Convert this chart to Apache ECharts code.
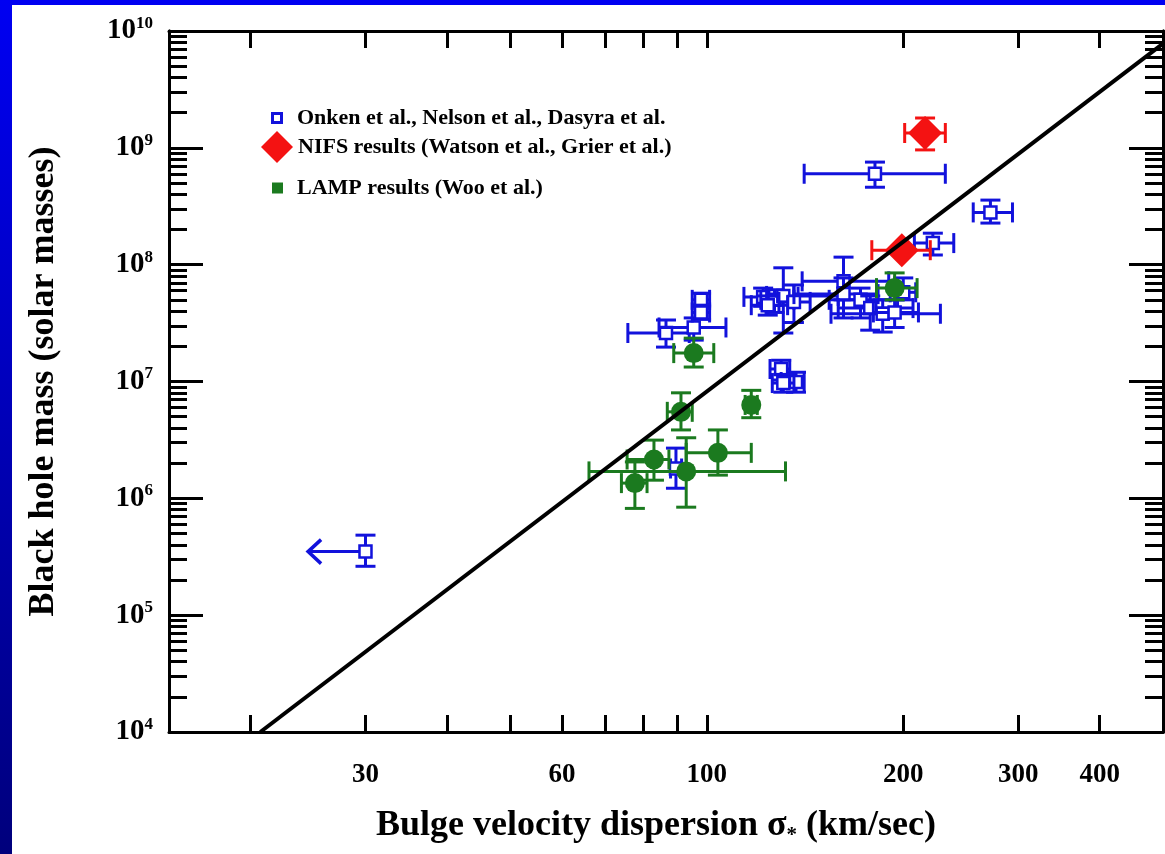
<!DOCTYPE html>
<html>
<head>
<meta charset="utf-8">
<title>M-sigma</title>
<script src="https://cdn.jsdelivr.net/npm/echarts@6/dist/echarts.min.js"></script>
<style>
  html, body { margin: 0; padding: 0; width: 1165px; height: 854px; overflow: hidden;
    background: linear-gradient(to bottom, #0000f2, #00007c); }
  #chart { position: absolute; left: 12px; top: 5px; width: 1153px; height: 849px; background: #fff; }
</style>
</head>
<body>
<div id="chart"></div>
<script>
// rows: [sigma, mass, sigmaLow, sigmaHigh, massLow, massHigh]
const onken = [
  [122, 5.3e7, 114, 138, 4.4e7, 6.3e7],
  [127, 5.0e7, 121, 136, 3.9e7, 6.1e7],
  [131, 5.4e7, 123.5, 159, 2.6e7, 9.4e7],
  [136, 4.8e7, 129, 144, 3.2e7, 6.7e7],
  [124, 4.5e7, 117, 133, 3.7e7, 5.4e7],
  [162, 7.2e7, 140, 190, 5.0e7, 1.16e8],
  [162, 5.6e7, 136, 183, 3.5e7, 7.7e7],
  [172, 5.0e7, 154, 196, 3.5e7, 6.3e7],
  [178, 4.25e7, 159, 207, 2.75e7, 5.4e7],
  [186, 3.8e7, 155, 228, 2.65e7, 5.0e7],
  [194, 3.9e7, 180, 211, 2.9e7, 5.0e7],
  [200, 5.8e7, 191, 209, 5.0e7, 7.7e7],
  [130, 1.28e7, 125, 134, 1.03e7, 1.52e7],
  [137, 9.9e6, 130, 141, 8.1e6, 1.2e7],
  [131, 9.7e6, 126, 136, 8.1e6, 1.15e7],
  [86.6, 2.6e7, 75.7, 94, 1.97e7, 3.36e7],
  [95.5, 2.9e7, 84.5, 107, 2.26e7, 3.5e7],
  [98, 5.0e7, 95, 101, 4.4e7, 5.7e7],
  [98, 3.9e7, 95, 101, 3.4e7, 4.5e7],
  [181, 6.0e8, 141, 232, 4.6e8, 7.55e8],
  [272, 2.8e8, 256, 294, 2.27e8, 3.57e8],
  [222, 1.53e8, 208, 239, 1.21e8, 1.86e8],
  [89.7, 1.8e6, 88, 91.5, 1.22e6, 2.69e6]
];
// upper limit: [sigma, mass, arrowTip, massLow, massHigh]
const onkenLimit = [[30, 3.5e5, 24.5, 2.62e5, 4.84e5]];
const nifs = [
  [216, 1.34e9, 201, 232, 9.6e8, 1.8e9],
  [199, 1.33e8, 179, 220, 1.2e8, 1.45e8]
];
const lamp = [
  [194, 6.3e7, 182, 210, 5.0e7, 8.5e7],
  [95.5, 1.75e7, 89, 102.5, 1.33e7, 2.35e7],
  [117, 6.3e6, 114.5, 119.5, 4.9e6, 8.4e6],
  [91.3, 5.5e6, 87, 95, 3.85e6, 8.0e6],
  [104, 2.45e6, 93, 117, 1.58e6, 3.85e6],
  [83, 2.15e6, 75.5, 87.5, 1.43e6, 3.15e6],
  [93, 1.7e6, 66, 132, 8.4e5, 3.3e6],
  [77.6, 1.35e6, 74, 81, 8.2e5, 2.05e6]
];
const fitLine = [[20.7, 1e4], [500, 7.8e9]];

const xTicks = [20, 30, 40, 50, 60, 70, 80, 90, 100, 200, 300, 400];
const xLabels = [30, 60, 100, 200, 300, 400];
const yMajor = [1e4, 1e5, 1e6, 1e7, 1e8, 1e9, 1e10];
const yMinor = [];
yMajor.slice(0, -1).forEach(d => { for (let k = 2; k <= 9; k++) yMinor.push(k * d); });

const names = {
  onken: 'Onken et al., Nelson et al., Dasyra et al.',
  nifs: 'NIFS results (Watson et al., Grier et al.)',
  lamp: 'LAMP results (Woo et al.)'
};
const colors = { onken: '#1212dc', nifs: '#f41212', lamp: '#1b7a1f' };
const serif = 'Liberation Serif, Times New Roman, serif';

const cap = 10;
function seg(x1, y1, x2, y2, color) {
  return { type: 'line', shape: { x1, y1, x2, y2 }, style: { stroke: color, lineWidth: 3 } };
}

function errorPoint(shape) {
  return function (params, api) {
    const color = api.visual('color');
    const s = api.value(0), m = api.value(1);
    const c = api.coord([s, m]);
    const xl = api.coord([api.value(2), m])[0];
    const xr = api.coord([api.value(3), m])[0];
    const yl = api.coord([s, api.value(4)])[1];
    const yh = api.coord([s, api.value(5)])[1];
    const children = [
      seg(xl, c[1], xr, c[1], color),
      seg(xl, c[1] - cap, xl, c[1] + cap, color),
      seg(xr, c[1] - cap, xr, c[1] + cap, color),
      seg(c[0], yl, c[0], yh, color),
      seg(c[0] - cap, yl, c[0] + cap, yl, color),
      seg(c[0] - cap, yh, c[0] + cap, yh, color)
    ];
    if (shape === 'square') {
      children.push({ type: 'rect', shape: { x: c[0] - 6, y: c[1] - 6, width: 12, height: 12 },
        style: { fill: '#fff', stroke: color, lineWidth: 2.5 } });
    } else if (shape === 'circle') {
      children.push({ type: 'circle', shape: { cx: c[0], cy: c[1], r: 10 }, style: { fill: color } });
    } else {
      const r = 17;
      children.push({ type: 'polygon',
        shape: { points: [[c[0], c[1] - r], [c[0] + r, c[1]], [c[0], c[1] + r], [c[0] - r, c[1]]] },
        style: { fill: color } });
    }
    return { type: 'group', children };
  };
}

function limitPoint(params, api) {
  const color = colors.onken;
  const s = api.value(0), m = api.value(1);
  const c = api.coord([s, m]);
  const tip = api.coord([api.value(2), m]);
  const yl = api.coord([s, api.value(3)])[1];
  const yh = api.coord([s, api.value(4)])[1];
  return { type: 'group', children: [
    seg(c[0], yl, c[0], yh, color),
    seg(c[0] - cap, yl, c[0] + cap, yl, color),
    seg(c[0] - cap, yh, c[0] + cap, yh, color),
    seg(tip[0], c[1], c[0], c[1], color),
    { type: 'polyline', shape: { points: [[tip[0] + 13, c[1] - 12], [tip[0], c[1]], [tip[0] + 13, c[1] + 12]] },
      style: { stroke: color, lineWidth: 3.5, fill: null } },
    { type: 'rect', shape: { x: c[0] - 6, y: c[1] - 6, width: 12, height: 12 },
      style: { fill: '#fff', stroke: color, lineWidth: 2.5 } }
  ] };
}

const axisLine = { show: true, lineStyle: { color: '#000', width: 3 } };
const tickStyle = { color: '#000', width: 3 };

function xAxis(pos, withLabels) {
  return {
    type: 'log', logBase: 10, min: 15, max: 500, position: pos,
    axisLine: axisLine,
    axisTick: { inside: true, length: 17, customValues: xTicks, lineStyle: tickStyle },
    axisLabel: withLabels ? {
      customValues: xLabels, margin: 30, fontSize: 27, fontFamily: serif, fontWeight: 'bold', color: '#000'
    } : { show: false },
    splitLine: { show: false }, minorTick: { show: false }
  };
}

function yAxis(pos, values, len, withLabels) {
  return {
    type: 'log', logBase: 10, min: 1e4, max: 1e10, position: pos,
    axisLine: axisLine,
    axisTick: { inside: true, length: len, customValues: values, lineStyle: tickStyle },
    axisLabel: withLabels ? {
      customValues: yMajor, margin: 16,
      formatter: v => '{b|10}{s|' + Math.round(Math.log10(v)) + '}',
      rich: {
        b: { fontSize: 29, fontFamily: serif, fontWeight: 'bold', color: '#000', lineHeight: 32 },
        s: { fontSize: 17, fontFamily: serif, fontWeight: 'bold', color: '#000', lineHeight: 17, verticalAlign: 'top' }
      }
    } : { show: false },
    splitLine: { show: false }, minorTick: { show: false }
  };
}

const legendText = { fontFamily: serif, fontWeight: 'bold', fontSize: 22, color: '#000', lineHeight: 24 };

const chart = echarts.init(document.getElementById('chart'));
const yMain = yAxis('left', yMajor, 34, true);
yMain.name = 'Black hole mass (solar masses)';
yMain.nameLocation = 'middle';
yMain.nameGap = 107;
yMain.nameTextStyle = { fontSize: 36, fontFamily: serif, fontWeight: 'bold', color: '#000' };
const xMain = xAxis('bottom', true);
xMain.name = '{t|Bulge velocity dispersion σ}{u|*}{t| (km/sec)}';
xMain.nameLocation = 'middle';
xMain.nameGap = 74;
xMain.nameTextStyle = { padding: [0, 20, 0, 0], rich: {
  t: { fontSize: 36, fontFamily: serif, fontWeight: 'bold', color: '#000', lineHeight: 40 },
  u: { fontSize: 21, fontFamily: serif, fontWeight: 'bold', color: '#000', lineHeight: 21, verticalAlign: 'bottom' }
} };

chart.setOption({
  animation: false,
  grid: { left: 157, right: 2, top: 26, bottom: 122 },
  legend: [
    { data: [{ name: names.onken, icon: 'path://M0,0H12V12H0Z M3,3V9H9V3Z' }], left: 259, top: 101,
      padding: 0, itemWidth: 12, itemHeight: 12, selectedMode: false,
      textStyle: Object.assign({ padding: [0, 0, 0, 9] }, legendText) },
    { data: [{ name: names.nifs, icon: 'diamond' }], left: 249, top: 126,
      padding: 0, itemWidth: 32, itemHeight: 32, selectedMode: false, textStyle: legendText },
    { data: [{ name: names.lamp, icon: 'rect' }], left: 260, top: 171,
      padding: 0, itemWidth: 11, itemHeight: 11, selectedMode: false,
      textStyle: Object.assign({ padding: [0, 0, 0, 9] }, legendText) }
  ],
  xAxis: [xMain, xAxis('top', false)],
  yAxis: [yMain, yAxis('left', yMinor, 18, false), yAxis('right', yMajor, 34, false), yAxis('right', yMinor, 18, false)],
  series: [
    { name: names.onken, type: 'custom', coordinateSystem: 'cartesian2d', xAxisIndex: 0, yAxisIndex: 0,
      itemStyle: { color: colors.onken }, renderItem: errorPoint('square'), data: onken },
    { name: 'limit', type: 'custom', coordinateSystem: 'cartesian2d', xAxisIndex: 0, yAxisIndex: 0,
      itemStyle: { color: colors.onken }, renderItem: limitPoint, data: onkenLimit },
    { name: 'fit', type: 'line', xAxisIndex: 0, yAxisIndex: 0, data: fitLine, symbol: 'none',
      lineStyle: { color: '#000', width: 4 }, silent: true },
    { name: names.lamp, type: 'custom', coordinateSystem: 'cartesian2d', xAxisIndex: 0, yAxisIndex: 0,
      itemStyle: { color: colors.lamp }, renderItem: errorPoint('circle'), data: lamp },
    { name: names.nifs, type: 'custom', coordinateSystem: 'cartesian2d', xAxisIndex: 0, yAxisIndex: 0,
      itemStyle: { color: colors.nifs }, renderItem: errorPoint('diamond'), data: nifs }
  ]
});
</script>
</body>
</html>
